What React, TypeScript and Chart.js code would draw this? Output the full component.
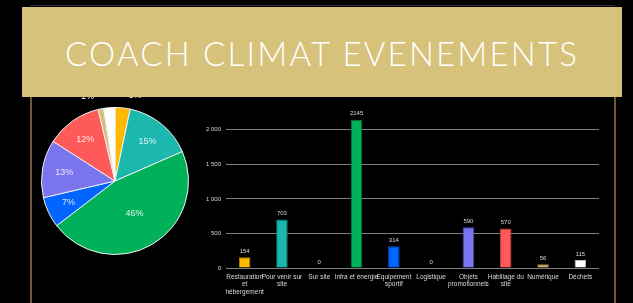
import React, { useEffect, useRef } from "react";
import { Chart, registerables } from "chart.js";

Chart.register(...registerables);

const categories: (string | string[])[] = [
  ["Restauration", "et", "hébergement"],
  ["Pour venir sur", "site"],
  "Sur site",
  "Infra et énergie",
  ["Equipement", "sportif"],
  "Logistique",
  ["Objets", "promotionnels"],
  ["Habillage du", "site"],
  "Numérique",
  "Déchets",
];
const values = [154, 703, 0, 2145, 314, 0, 590, 570, 56, 115];
const fillColors = ["#FFB900", "#1CB8AE", "#888888", "#00B15A", "#0066FF", "#888888", "#7B74EF", "#FF5A5A", "#D4C07A", "#FFFFFF"];
const edgeColors = ["#B88600", "#12857E", "#555555", "#007A3D", "#0047B3", "#555555", "#5149B8", "#C23C3C", "#9C8B50", "#BFBFBF"];
const yTicks = [0, 500, 1000, 1500, 2000];
const yMax = 2300;
const title = "COACH CLIMAT EVENEMENTS";

function fmt(v: number) {
  return String(v).replace(/\B(?=(\d{3})+(?!\d))/g, " ");
}

const pieLabels = {
  id: "pieLabels",
  afterDatasetsDraw(chart: any) {
    const ctx = chart.ctx;
    const meta = chart.getDatasetMeta(0);
    const data = chart.data.datasets[0].data as number[];
    const total = data.reduce((a, b) => a + b, 0);
    ctx.save();
    ctx.font = "9px 'Liberation Sans', Arial, sans-serif";
    ctx.textAlign = "center";
    ctx.textBaseline = "middle";
    const placed: { x: number; y: number }[] = [];
    meta.data.forEach((arc: any, i: number) => {
      const v = data[i];
      if (!v) return;
      const frac = v / total;
      const p = arc.getProps(["x", "y", "startAngle", "endAngle", "outerRadius"], true);
      const mid = (p.startAngle + p.endAngle) / 2;
      const txt = Math.round(frac * 100) + "%";
      if (frac >= 0.05) {
        const k = frac > 0.3 ? 0.52 : 0.7;
        ctx.fillStyle = "rgba(255,255,255,0.85)";
        ctx.fillText(txt, p.x + Math.cos(mid) * p.outerRadius * k, p.y + Math.sin(mid) * p.outerRadius * k);
      } else {
        let x = p.x + Math.cos(mid) * p.outerRadius * 1.17;
        let y = p.y + Math.sin(mid) * p.outerRadius * 1.17;
        x += Math.cos(mid) >= 0 ? 11 : -11;
        while (placed.some((q) => Math.abs(q.x - x) < 14 && Math.abs(q.y - y) < 9)) y -= 10;
        placed.push({ x, y });
        ctx.fillStyle = "#ffffff";
        ctx.fillText(txt, x, y);
      }
    });
    ctx.restore();
  },
};

const barLabels = {
  id: "barLabels",
  afterDatasetsDraw(chart: any) {
    const ctx = chart.ctx;
    const meta = chart.getDatasetMeta(0);
    const data = chart.data.datasets[0].data as number[];
    ctx.save();
    ctx.font = "6px 'Liberation Sans', Arial, sans-serif";
    ctx.fillStyle = "#d9d9d9";
    ctx.textAlign = "center";
    ctx.textBaseline = "bottom";
    meta.data.forEach((bar: any, i: number) => {
      ctx.fillText(String(data[i]), bar.x, bar.y - 3);
    });
    ctx.restore();
  },
};

export default function App() {
  const pieRef = useRef<HTMLCanvasElement>(null);
  const barRef = useRef<HTMLCanvasElement>(null);

  useEffect(() => {
    document.body.style.margin = "0";
    document.body.style.background = "#000";
    const pieData = values.filter((v) => v > 0);
    const pieColors = fillColors.filter((_, i) => values[i] > 0);
    const pie = new Chart(pieRef.current!, {
      type: "pie",
      data: {
        labels: categories.filter((_, i) => values[i] > 0).map((c) => (Array.isArray(c) ? c.join(" ") : c)),
        datasets: [{ data: pieData, backgroundColor: pieColors, borderColor: "#f2f2f2", borderWidth: 1 }],
      },
      options: {
        animation: false,
        responsive: false,
        maintainAspectRatio: false,
        layout: { padding: { left: 6, right: 6, top: 19, bottom: 19 } },
        plugins: { legend: { display: false }, tooltip: { enabled: false } },
      },
      plugins: [pieLabels],
    });

    const bar = new Chart(barRef.current!, {
      type: "bar",
      data: {
        labels: categories as any,
        datasets: [
          {
            data: values,
            backgroundColor: fillColors,
            borderColor: edgeColors,
            borderWidth: 1,
            barPercentage: 0.31,
            categoryPercentage: 1,
          },
        ],
      },
      options: {
        animation: false,
        responsive: false,
        maintainAspectRatio: false,
        layout: { padding: { top: 9, right: 6, left: 0, bottom: 0 } },
        plugins: { legend: { display: false }, tooltip: { enabled: false } },
        scales: {
          x: {
            grid: { display: false, drawTicks: false },
            border: { display: false },
            ticks: {
              autoSkip: false,
              maxRotation: 0,
              minRotation: 0,
              padding: 5,
              color: "#d9d9d9",
              font: { size: 6.5, family: "'Liberation Sans', Arial, sans-serif", lineHeight: 1.2 },
            },
            afterFit(scale: any) {
              scale.height = 35;
            },
          },
          y: {
            min: 0,
            max: yMax,
            grid: { color: "#7f7f7f", lineWidth: 1, drawTicks: false },
            border: { display: false },
            afterBuildTicks(scale: any) {
              scale.ticks = yTicks.map((v) => ({ value: v }));
            },
            ticks: {
              padding: 5,
              color: "#d9d9d9",
              font: { size: 6, family: "'Liberation Sans', Arial, sans-serif" },
              callback: (v: any) => fmt(Number(v)),
            },
            afterFit(scale: any) {
              scale.width = 36;
            },
          },
        },
      },
      plugins: [barLabels],
    });

    return () => {
      pie.destroy();
      bar.destroy();
    };
  }, []);

  return (
    <div style={{ position: "fixed", left: 0, top: 0, width: 633, height: 303, background: "#000", overflow: "hidden" }}>
      <div
        style={{
          position: "absolute",
          left: 30,
          top: 8,
          width: 582,
          height: 400,
          borderLeft: "2px solid #6b5a30",
          borderRight: "2px solid #6b5a30",
        }}
      />
      <div style={{ position: "absolute", left: 30, top: 5, width: 585, height: 1, background: "#333333" }} />
      <canvas ref={pieRef} width={160} height={186} style={{ position: "absolute", left: 35, top: 88, width: 160, height: 186 }} />
      <canvas ref={barRef} width={415} height={203} style={{ position: "absolute", left: 190, top: 100, width: 415, height: 203 }} />
      <div
        style={{
          position: "absolute",
          left: 22,
          top: 7,
          width: 600,
          height: 90,
          background: "#D6C27A",
          display: "flex",
          alignItems: "center",
          justifyContent: "center",
          color: "#ffffff",
          fontFamily: "Lato, 'DejaVu Sans', sans-serif",
          fontWeight: 300,
          fontSize: 33,
          letterSpacing: 2.2,
          zIndex: 2,
        }}
      >
        <span style={{ paddingTop: 2 }}>{title}</span>
      </div>
    </div>
  );
}
